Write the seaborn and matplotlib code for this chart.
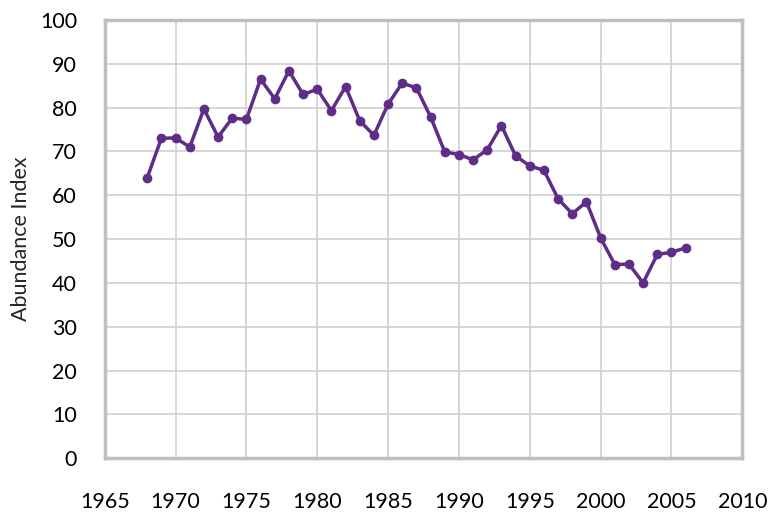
import matplotlib
matplotlib.use("Agg")
import matplotlib.pyplot as plt
import seaborn as sns
import pandas as pd

years = list(range(1968, 2007))
abundance = [64.0, 73.0, 73.1, 71.0, 79.7, 73.3, 77.6, 77.3, 86.5, 82.0,
             88.4, 83.0, 84.2, 79.3, 84.8, 77.0, 73.7, 80.8, 85.6, 84.5,
             77.9, 69.9, 69.3, 68.1, 70.4, 75.9, 69.0, 66.7, 65.7, 59.2,
             55.8, 58.5, 50.3, 44.2, 44.3, 40.0, 46.5, 47.0, 48.0]
x_ticks = list(range(1965, 2011, 5))
y_ticks = list(range(0, 101, 10))

df = pd.DataFrame({"Year": years, "Abundance Index": abundance})

sns.set_theme(style="white")
plt.rcParams['font.family'] = ['Lato', 'DejaVu Sans']

fig = plt.figure(figsize=(7.7, 5.12), dpi=100)
ax = fig.add_axes([0.136, 0.105, 0.828, 0.856])

purple = "#5E2D8A"
sns.lineplot(data=df, x="Year", y="Abundance Index", ax=ax, color=purple,
             linewidth=2.5, marker="o", markersize=7, markeredgewidth=0,
             zorder=3)

ax.set_xlim(1965, 2010)
ax.set_ylim(0, 100)
ax.set_xticks(x_ticks)
ax.set_yticks(y_ticks)
ax.set_xticklabels([str(t) for t in x_ticks])
ax.set_yticklabels([str(t) for t in y_ticks])
ax.grid(True, color="#D0D0D0", linewidth=1.2, zorder=0)
ax.set_axisbelow(True)
for s in ax.spines.values():
    s.set_color("#BFBFBF")
    s.set_linewidth(2.5)
ax.tick_params(axis="both", length=0, labelsize=15.5, colors="black")
ax.tick_params(axis="x", pad=24)
ax.tick_params(axis="y", pad=20)
ax.set_xlabel("")
ax.set_ylabel("Abundance Index", fontsize=15.5, labelpad=6)

fig.savefig("out.png", dpi=100)
